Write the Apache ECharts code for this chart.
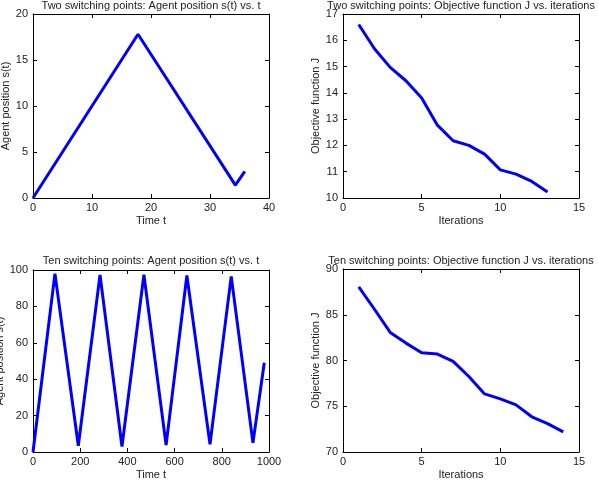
<!DOCTYPE html>
<html><head><meta charset="utf-8">
<script src="https://cdn.jsdelivr.net/npm/echarts@6/dist/echarts.min.js"></script>
<style>html,body{margin:0;padding:0;background:#fff}#c{width:598px;height:480px}</style>
</head><body><div id="c"></div>
<script>
// Two switching points: agent position
var twoT = [0, 17.8, 34.3, 35.9];
var twoS = [0, 17.8, 1.4, 2.9];
// Two switching points: objective J
var twoIter = [1,2,3,4,5,6,7,8,9,10,11,12,13];
var twoJ = [16.6,15.68,14.97,14.46,13.8,12.77,12.18,12.0,11.67,11.07,10.91,10.63,10.23];
// Ten switching points: agent position
var tenT = [0, 93, 192, 284, 377, 470, 564, 652, 750, 840, 932, 980];
var tenS = [0, 98, 3.4, 97.3, 3.0, 97.4, 3.8, 97.0, 4.2, 96.5, 5.0, 49];
// Ten switching points: objective J
var tenIter = [1,2,3,4,5,6,7,8,9,10,11,12,13,14];
var tenJ = [88.05,85.6,83.07,81.9,80.85,80.7,79.9,78.25,76.35,75.8,75.15,73.85,73.1,72.2];

var titles = [
  "Two switching points: Agent position s(t) vs. t",
  "Two switching points: Objective function J vs. iterations",
  "Ten switching points: Agent position s(t) vs. t",
  "Ten switching points: Objective function J vs. iterations"
];
var xNames = ["Time t","Iterations","Time t","Iterations"];
var yNames = ["Agent position s(t)","Objective function J","Agent position s(t)","Objective function J"];
var xRanges = [[0,40,10],[0,15,5],[0,1000,200],[0,15,5]];
var yRanges = [[0,20,5],[10,17,1],[0,100,20],[70,90,5]];

function pairs(a,b){return a.map(function(v,i){return [v,b[i]];});}
var seriesData = [pairs(twoT,twoS), pairs(twoIter,twoJ), pairs(tenT,tenS), pairs(tenIter,tenJ)];

var grids = [
  {left:33, top:14, width:236, height:184},
  {left:343, top:14, width:236, height:184},
  {left:33, top:270, width:236, height:182},
  {left:343, top:269, width:236, height:183}
];
var titleTops = [0, 0, 255, 255];
var FONT = 'Liberation Sans, Arial, sans-serif';
var txt = '#222';
var option = {
  animation:false,
  backgroundColor:'#fff',
  title:[], grid:[], xAxis:[], yAxis:[], series:[]
};
function fmt(v){return String(v);}
grids.forEach(function(g,i){
  option.grid.push({left:g.left, top:g.top, width:g.width, height:g.height, containLabel:false, outerBoundsMode:'none'});
  option.title.push({text:titles[i], left:g.left+g.width/2, top:titleTops[i], textAlign:'center', padding:0,
    textStyle:{fontFamily:FONT, fontSize:11, fontWeight:'normal', color:txt}});
  var ls = {color:'#000', width:1};
  option.xAxis.push({type:'value', gridIndex:i, min:xRanges[i][0], max:xRanges[i][1], interval:xRanges[i][2],
    name:xNames[i], nameLocation:'middle', nameGap:17,
    nameTextStyle:{fontFamily:FONT, fontSize:11, color:txt},
    axisLine:{show:true, onZero:false, lineStyle:ls},
    axisTick:{show:true, inside:true, length:4, lineStyle:{color:'#000'}},
    axisLabel:{fontFamily:FONT, fontSize:11, color:txt, margin:4, formatter:fmt},
    splitLine:{show:false}});
  option.xAxis.push({type:'value', gridIndex:i, position:'top', min:xRanges[i][0], max:xRanges[i][1], interval:xRanges[i][2],
    axisLine:{show:true, onZero:false, lineStyle:ls},
    axisTick:{show:true, inside:true, length:4, lineStyle:{color:'#000'}},
    axisLabel:{show:false}, splitLine:{show:false}});
  option.yAxis.push({type:'value', gridIndex:i, min:yRanges[i][0], max:yRanges[i][1], interval:yRanges[i][2],
    name:yNames[i], nameLocation:'middle', nameGap:22,
    nameTextStyle:{fontFamily:FONT, fontSize:11, color:txt},
    axisLine:{show:true, onZero:false, lineStyle:ls},
    axisTick:{show:true, inside:true, length:4, lineStyle:{color:'#000'}},
    axisLabel:{fontFamily:FONT, fontSize:11, color:txt, margin:5, formatter:fmt},
    splitLine:{show:false}});
  option.yAxis.push({type:'value', gridIndex:i, position:'right', min:yRanges[i][0], max:yRanges[i][1], interval:yRanges[i][2],
    axisLine:{show:true, onZero:false, lineStyle:ls},
    axisTick:{show:true, inside:true, length:4, lineStyle:{color:'#000'}},
    axisLabel:{show:false}, splitLine:{show:false}});
  option.series.push({type:'line', xAxisIndex:2*i, yAxisIndex:2*i, data:seriesData[i],
    showSymbol:false, symbol:'none', lineStyle:{color:'#0000ff', width:3}, itemStyle:{color:'#0000ff'}});
});
var chart = echarts.init(document.getElementById('c'), null, {renderer:'canvas'});
chart.setOption(option);
</script></body></html>
